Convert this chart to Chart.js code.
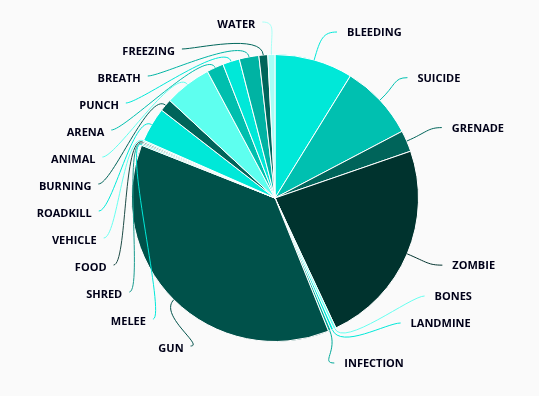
<!DOCTYPE html>
<html>
<head>
<meta charset="utf-8">
<script src="https://cdn.jsdelivr.net/npm/chart.js@4"></script>
<style>
    html, body { margin: 0; padding: 0; background: #fafafa; }
    #wrap { width: 539px; height: 396px; }
</style>
</head>
<body>
<div id="wrap"><canvas id="myChart" width="539" height="396"></canvas></div>
<script>
const causes = ['BLEEDING', 'SUICIDE', 'GRENADE', 'ZOMBIE', 'BONES', 'LANDMINE', 'INFECTION', 'GUN',
    'MELEE', 'SHRED', 'FOOD', 'VEHICLE', 'ROADKILL', 'BURNING', 'ANIMAL', 'ARENA', 'PUNCH', 'BREATH',
    'FREEZING', 'WATER'];
const deaths = [176, 170, 48, 466, 6, 6, 6, 741, 3, 3, 3, 3, 78, 28, 106, 38, 38, 44, 20, 16];
const sliceColors = ['#00e8d8', '#00c0b0', '#00645a', '#00332e', '#66fff0', '#00e8d8', '#00a898', '#00514a',
    '#00e8d8', '#1a9a8e', '#1d4a45', '#66fff0', '#00e8d8', '#00645a', '#5effef', '#00bfae', '#00e8d8', '#00b3a3',
    '#00665b', '#a8fff6'];

// labels pushed apart on each side, then placed on an ellipse round the pie
const labelLines = {
    id: 'labelLines',
    afterDatasetsDraw(chart) {
        const ctx = chart.ctx;
        const arcs = chart.getDatasetMeta(0).data;
        const gap = 27, bottom = 364;
        const items = arcs.map((arc, i) => {
            const p = arc.getProps(['x', 'y', 'startAngle', 'endAngle', 'outerRadius'], true);
            const mid = (p.startAngle + p.endAngle) / 2;
            return {
                i, p, mid,
                right: Math.cos(mid) >= 0,
                y: p.y + 175 * Math.sin(mid)
            };
        });

        [true, false].forEach(side => {
            const top = side ? 33 : 25;
            const lastGap = side ? 40 : gap;
            const list = items.filter(it => it.right === side).sort((a, b) => a.y - b.y);
            for (let k = 0; k < list.length; k++) {
                if (k === 0) list[k].y = Math.max(list[k].y, top);
                else list[k].y = Math.max(list[k].y, list[k - 1].y + gap);
            }
            for (let k = list.length - 1; k >= 0; k--) {
                if (k === list.length - 1) list[k].y = Math.min(list[k].y, bottom);
                else if (k === list.length - 2) list[k].y = Math.min(list[k].y, list[k + 1].y - lastGap);
                else list[k].y = Math.min(list[k].y, list[k + 1].y - gap);
            }
        });

        ctx.save();
        ctx.font = 'bold 11px "Open Sans"';
        ctx.textBaseline = 'middle';
        items.forEach(it => {
            const { p, mid } = it;
            const a = it.right ? 192 : 184;
            const b = it.right ? 178 : 174;
            const dy = it.y - p.y;
            const dx = a * Math.sqrt(Math.max(0, 1 - (dy / b) * (dy / b)));
            const tx = it.right ? p.x + dx : p.x - dx;
            const ax = it.right ? tx - 10 : tx + 7;
            const ay = it.right ? it.y - 1 : it.y - 3;

            const x0 = p.x + p.outerRadius * Math.cos(mid);
            const y0 = p.y + p.outerRadius * Math.sin(mid);
            const x1 = p.x + (p.outerRadius + 22) * Math.cos(mid);
            const y1 = p.y + (p.outerRadius + 22) * Math.sin(mid);
            const x2 = it.right ? ax - 14 : ax + 14;

            ctx.strokeStyle = sliceColors[it.i];
            ctx.lineWidth = 1;
            ctx.beginPath();
            ctx.moveTo(x0, y0);
            ctx.bezierCurveTo(x1, y1, x2, ay, ax, ay);
            ctx.stroke();

            ctx.fillStyle = '#000018';
            ctx.textAlign = it.right ? 'left' : 'right';
            ctx.fillText(causes[it.i], tx, it.y);
        });
        ctx.restore();
    }
};

const ctx = document.getElementById('myChart').getContext('2d');
const myChart = new Chart(ctx, {
    type: 'pie',
    data: {
        labels: causes,
        datasets: [{
            data: deaths,
            backgroundColor: sliceColors,
            borderColor: '#ffffff',
            borderWidth: 1
        }]
    },
    options: {
        responsive: false,
        animation: false,
        layout: { padding: { left: 131, right: 120, top: 54, bottom: 54 } },
        plugins: {
            legend: { display: false },
            tooltip: { enabled: false }
        }
    },
    plugins: [labelLines]
});
</script>
</body>
</html>
